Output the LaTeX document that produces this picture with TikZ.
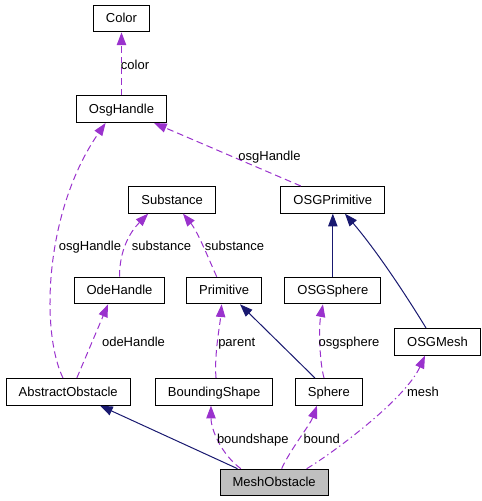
\documentclass[tikz,border=0pt]{standalone}
\usepackage{fontspec}
\setmainfont{Liberation Sans}
\usetikzlibrary{arrows.meta}
\definecolor{usageColor}{HTML}{9A32CD}
\definecolor{inheritColor}{HTML}{191970}
\definecolor{currentGray}{HTML}{BFBFBF}
\newcommand{\classFont}{\fontsize{9.75}{11}\selectfont}
\tikzset{%
  >={Triangle[width=7pt,length=9.5pt]},
  % Specifications for style of nodes:
          base/.style = {rectangle, draw=black, line width=0.75pt,
                         minimum height=20pt, inner xsep=9.4pt, inner ysep=0pt,
                         text height=1.5ex, text depth=0.25ex, font=\classFont},
      classBox/.style = {base, fill=white},
    currentBox/.style = {base, fill=currentGray},
     edgeLabel/.style = {inner sep=0pt, text height=1.5ex, text depth=0.25ex,
                         font=\classFont},
  % Specifications for style of connectors:
         usage/.style = {->, draw=usageColor, line width=0.75pt,
                         dash pattern=on 5pt off 3pt},
  usageDashDot/.style = {usage, dash pattern=on 5pt off 2.5pt on 1pt off 2.5pt},
       inherit/.style = {->, draw=inheritColor, line width=0.75pt},
}

\begin{document}
\begin{tikzpicture}[x=0.75pt, y=-0.75pt, node distance=68pt]
  \useasboundingbox (0,0) rectangle (482,501);
  % Specification of nodes (position, etc.)
  \node (colorClass)            [classBox] at (121.5,18.5) {Color};
  \node (osgHandleClass)        [classBox, below of=colorClass] {OsgHandle};
  \node (substanceClass)        [classBox, below of=osgHandleClass, xshift=38pt] {Substance};
  \node (osgPrimitiveClass)     [classBox, right of=substanceClass, xshift=52.5pt] {OSGPrimitive};
  \node (odeHandleClass)        [classBox, below of=substanceClass, xshift=-39.5pt] {OdeHandle};
  \node (primitiveClass)        [classBox, below of=substanceClass, xshift=39pt] {Primitive};
  \node (osgSphereClass)        [classBox, below of=osgPrimitiveClass] {OSGSphere};
  \node (osgMeshClass)          [classBox, right of=osgSphereClass, xshift=10.5pt, yshift=-38.5pt]
                                {OSGMesh};
  \node (abstractObstacleClass) [classBox, below of=odeHandleClass, xshift=-38.5pt, yshift=-8pt]
                                {AbstractObstacle};
  \node (boundingShapeClass)    [classBox, below of=primitiveClass, xshift=-7.5pt, yshift=-8pt]
                                {BoundingShape};
  \node (sphereClass)           [classBox, below of=osgSphereClass, xshift=-3pt, yshift=-8pt]
                                {Sphere};
  \node (meshObstacleClass)     [currentBox, below of=boundingShapeClass, xshift=45pt]
                                {MeshObstacle};

  % Specification of lines between nodes specified above
  % with their member names as labels
  \draw[usage] (osgHandleClass.north) -- (colorClass.south)
    node[edgeLabel] at (135,65) {color};
  \draw[usage] ([xshift=-24pt]osgPrimitiveClass.north) -- ([xshift=24.4pt]osgHandleClass.south)
    node[edgeLabel] at (269.5,156) {osgHandle};
  \draw[usage] ([xshift=-3.9pt]abstractObstacleClass.north)
    .. controls (40,330) and (45,210) .. ([xshift=-11.9pt]osgHandleClass.south)
    node[edgeLabel] at (90,246.5) {osgHandle};
  \draw[usage] ([xshift=-0pt]odeHandleClass.north)
    .. controls (119.5,250) and (130,232) .. ([xshift=-18pt]substanceClass.south)
    node[edgeLabel] at (161.5,246.5) {substance};
  \draw[usage] ([xshift=-5.6pt]primitiveClass.north)
    .. controls (210,262) and (198,232) .. ([xshift=8.1pt]substanceClass.south)
    node[edgeLabel] at (234.5,246.5) {substance};
  \draw[usage] ([xshift=6.5pt]abstractObstacleClass.north) -- ([xshift=-8.6pt]odeHandleClass.south)
    node[edgeLabel] at (133.5,342.5) {odeHandle};
  \draw[usage] ([xshift=1.4pt]boundingShapeClass.north)
    .. controls (214,355) and (220,325) .. ([xshift=-1.9pt]primitiveClass.south)
    node[edgeLabel] at (236.7,342.5) {parent};
  \draw[usage] ([xshift=-3.6pt]sphereClass.north)
    .. controls (319,360) and (319,325) .. ([xshift=-7.4pt]osgSphereClass.south)
    node[edgeLabel] at (349,342.5) {osgsphere};
  \draw[usage] ([xshift=-25pt]meshObstacleClass.north)
    .. controls (222,455) and (211,430) .. ([xshift=-2.4pt]boundingShapeClass.south)
    node[edgeLabel] at (252.8,439) {boundshape};
  \draw[usage] ([xshift=5.6pt]meshObstacleClass.north)
    .. controls (290,450) and (310,425) .. ([xshift=-8.9pt]sphereClass.south)
    node[edgeLabel] at (321.8,439) {bound};
  \draw[usageDashDot] ([xshift=24.4pt]meshObstacleClass.north)
    .. controls (330,455) and (405,400) .. ([xshift=-9.4pt]osgMeshClass.south)
    node[edgeLabel] at (423,392.5) {mesh};

  \draw[inherit] (osgSphereClass) -- (osgPrimitiveClass);
  \draw[inherit] ([xshift=-8.6pt]osgMeshClass.north)
    .. controls (404,292) and (376,250) .. ([xshift=9.1pt]osgPrimitiveClass.south);
  \draw[inherit] ([xshift=-10.4pt]sphereClass.north) -- ([xshift=11.9pt]primitiveClass.south);
  \draw[inherit] ([xshift=-27.5pt]meshObstacleClass.north) -- ([xshift=23.9pt]abstractObstacleClass.south);
\end{tikzpicture}
\end{document}
